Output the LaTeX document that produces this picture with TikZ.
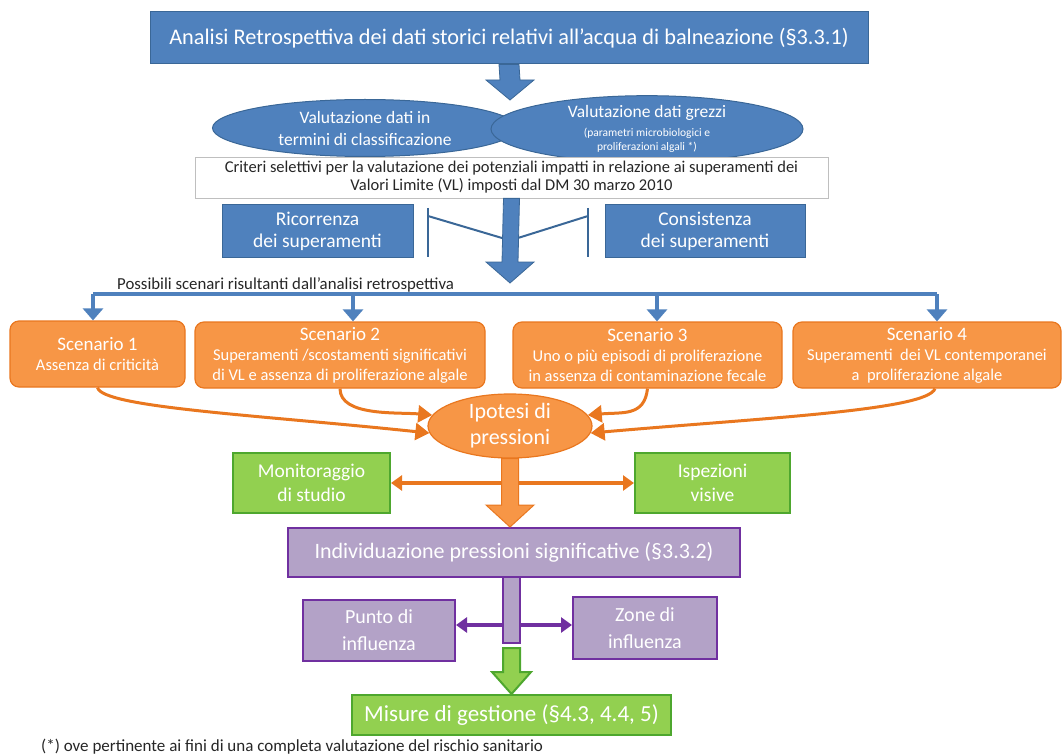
\documentclass[tikz,border=0pt]{standalone}
\usepackage{fontspec}
\setmainfont{Carlito}
\usetikzlibrary{arrows.meta, calc, shapes.geometric}

\definecolor{bluefill}{HTML}{4F81BD}
\definecolor{blueline}{HTML}{3A6797}
\definecolor{orfill}{HTML}{F79646}
\definecolor{orline}{HTML}{E9771F}
\definecolor{grfill}{HTML}{92D050}
\definecolor{grline}{HTML}{4EA72E}
\definecolor{pufill}{HTML}{B3A2C7}
\definecolor{puline}{HTML}{7030A0}
\definecolor{txtdark}{HTML}{262626}

\newcommand{\fsz}[2]{\fontsize{#1}{#2}\selectfont}
% block arrow: style, from, to, half shaft, half head, head length
\newcommand{\blockarrow}[6]{%
  \draw[#1] ($(#2)+(-#4,0)$) -- ($(#3)+(-#4,-#6)$) -- ($(#3)+(-#5,-#6)$) -- (#3)
    -- ($(#3)+(#5,-#6)$) -- ($(#3)+(#4,-#6)$) -- ($(#2)+(#4,0)$) -- cycle;}

\tikzset{
  bluebox/.style={draw=blueline, fill=bluefill, text=white, line width=1pt, align=center, inner sep=0pt},
  blueell/.style={ellipse, draw=blueline, fill=bluefill, text=white, line width=1pt, align=center, inner sep=0pt},
  criteribox/.style={draw=black!25, fill=white, text=txtdark, line width=0.8pt, align=center, inner sep=0pt, font=\fsz{16.5}{18}},
  scenbox/.style={draw=orline, fill=orfill, text=white, rounded corners=9pt, line width=1.2pt, align=center, inner sep=0pt, font=\fsz{16.5}{20}},
  orell/.style={ellipse, draw=orline, fill=orfill, text=white, line width=1.2pt, align=center, inner sep=0pt},
  greenbox/.style={draw=grline, fill=grfill, text=white, line width=2pt, align=center, inner sep=0pt},
  purplebox/.style={draw=puline, fill=pufill, text=white, line width=2pt, align=center, inner sep=0pt},
  plaintext/.style={text=txtdark, inner sep=0pt, font=\fsz{16.8}{18}},
  busline/.style={draw=bluefill, line width=3.5pt},
  busarrow/.style={draw=bluefill, line width=3.5pt, -{Triangle[width=20pt,length=12pt]}},
  bracketline/.style={draw=blueline, line width=2pt},
  curvearrow/.style={draw=orline, line width=3pt, -{Triangle[width=17pt,length=14pt]}},
  ordbl/.style={draw=orline, line width=4pt, {Triangle[width=15pt,length=11pt]}-{Triangle[width=15pt,length=11pt]}},
  puarrow/.style={draw=puline, line width=4pt, -{Triangle[width=15pt,length=11pt]}},
  blueblock/.style={fill=bluefill, draw=blueline, line width=0.8pt},
  orblock/.style={fill=orfill, draw=orline, line width=1pt},
  grblock/.style={fill=grfill, draw=grline, line width=2pt},
}

\begin{document}
\begin{tikzpicture}[x=1pt, y=-1pt]
\useasboundingbox (0,0) rectangle (1063,754);

%top of the chart
\node[bluebox, minimum width=718, minimum height=52, font=\fsz{22.3}{24}] (analisi) at (509,38)
  {Analisi Retrospettiva dei dati storici relativi all’acqua di balneazione (§3.3.1)};
\node[blueell, minimum width=305, minimum height=57, font=\fsz{17.5}{22}] (classif) at (365,128)
  {Valutazione dati in\\termini di classificazione};
\node[blueell, minimum width=312, minimum height=57, font=\fsz{17.5}{19}] (grezzi) at (647,129)
  {Valutazione dati grezzi\\{\fsz{11.5}{13}(parametri microbiologici e}\\[-5pt]{\fsz{11.5}{13}proliferazioni algali *)}};
\coordinate (tip1) at (510,100);
\blockarrow{blueblock}{analisi.south}{tip1}{10}{24}{20}

\node[criteribox, minimum width=633, minimum height=41] (criteri) at (511.5,177.5)
  {Criteri selettivi per la valutazione dei potenziali impatti in relazione ai superamenti dei\\Valori Limite (VL) imposti dal DM 30 marzo 2010};
\node[bluebox, minimum width=191, minimum height=53, font=\fsz{19.5}{22}] (ricorr) at (317.5,231.5)
  {Ricorrenza\\dei superamenti};
\node[bluebox, minimum width=200, minimum height=53, font=\fsz{19.5}{22}] (consist) at (705,231.5)
  {Consistenza\\dei superamenti};

%brackets joining the big arrow
\coordinate (brL) at (428,208);
\coordinate (brR) at (588,208);
\draw[bracketline] (brL) -- ++(0,49);
\draw[bracketline] ($(brL)+(0,8)$) -- (502,238);
\draw[bracketline] (brR) -- ++(0,49);
\draw[bracketline] ($(brR)+(0,8)$) -- (518,238);
\coordinate (tip2) at (510,283);
\blockarrow{blueblock}{criteri.south}{tip2}{8}{24}{21}

\node[plaintext, anchor=base west] (possibili) at (117,289)
  {Possibili scenari risultanti dall’analisi retrospettiva};

%scenarios
\node[scenbox, minimum width=175, minimum height=66] (s1) at (97.5,354)
  {{\fsz{19}{20}Scenario 1}\\Assenza di criticità};
\node[scenbox, minimum width=290, minimum height=66] (s2) at (340,355)
  {{\fsz{19}{20}Scenario 2}\\Superamenti /scostamenti significativi\\di VL e assenza di proliferazione algale};
\node[scenbox, minimum width=269, minimum height=66] (s3) at (647.5,355)
  {{\fsz{19}{20}Scenario 3}\\Uno o più episodi di proliferazione\\in assenza di contaminazione fecale};
\node[scenbox, minimum width=268, minimum height=66] (s4) at (927,355)
  {{\fsz{19}{20}Scenario 4}\\Superamenti\ \ dei VL contemporanei\\a\ \ proliferazione algale};

\coordinate (b1) at (93,294);
\coordinate (b2) at (353,294);
\coordinate (b3) at (657,294);
\coordinate (b4) at (937,294);
\draw[busline] (b1) -- (b4);
\foreach \b/\s in {b1/s1, b2/s2, b3/s3, b4/s4}
  \draw[busarrow] (\b) -- (\b |- \s.north);

\node[orell, minimum width=164, minimum height=64, inner ysep=-6pt, font=\fsz{22}{26}] (ipotesi) at (510,426)
  {Ipotesi di\\pressioni};
\draw[curvearrow] (s1.south) .. controls +(5,20) and +(-170,-18) .. (ipotesi.185);
\draw[curvearrow] (s2.south) .. controls +(0,28) and +(-35,-3) .. (ipotesi.172);
\draw[curvearrow] (s3.south) .. controls +(-3,28) and +(35,-3) .. (ipotesi.8);
\draw[curvearrow] ($(s4.south)+(8,0)$) .. controls +(-8,22) and +(170,-15) .. (ipotesi.-5);

%studies
\node[greenbox, minimum width=157, minimum height=60, font=\fsz{19.5}{24}] (monit) at (311.5,483)
  {Monitoraggio\\di studio};
\node[greenbox, minimum width=155, minimum height=60, font=\fsz{19.5}{24}] (ispez) at (712.5,483)
  {Ispezioni\\visive};
\draw[ordbl] (monit.east) -- (ispez.west);

\node[purplebox, minimum width=452, minimum height=49, font=\fsz{22}{26}] (individ) at (514,552.5)
  {Individuazione pressioni significative (§3.3.2)};
\coordinate (tip3) at (ipotesi.south |- individ.north);
\blockarrow{orblock}{ipotesi.south}{tip3}{8.5}{24}{22}

\node[purplebox, minimum width=17, minimum height=66] (stem) at (511.5,610) {};
\node[purplebox, minimum width=152, minimum height=61, font=\fsz{20}{27}] (punto) at (379,630)
  {Punto di\\influenza};
\node[purplebox, minimum width=144, minimum height=62, font=\fsz{20}{27}] (zone) at (645,628)
  {Zone di\\influenza};
\draw[puarrow] ([yshift=-15pt]stem.west) -- ([yshift=-15pt]stem.west -| punto.east);
\draw[puarrow] ([yshift=-15pt]stem.east) -- ([yshift=-15pt]stem.east -| zone.west);

\node[greenbox, minimum width=319, minimum height=40, font=\fsz{23}{26}] (misure) at (511.5,715)
  {Misure di gestione (§4.3, 4.4, 5)};
\coordinate (gtop) at (511.5,648);
\coordinate (tip4) at (gtop |- misure.north);
\blockarrow{grblock}{gtop}{tip4}{8.5}{19.5}{22}

\node[plaintext, anchor=base west, font=\fsz{17}{18}] (nota) at (41,751)
  {(*) ove pertinente ai fini di una completa valutazione del rischio sanitario};
\end{tikzpicture}
\end{document}
